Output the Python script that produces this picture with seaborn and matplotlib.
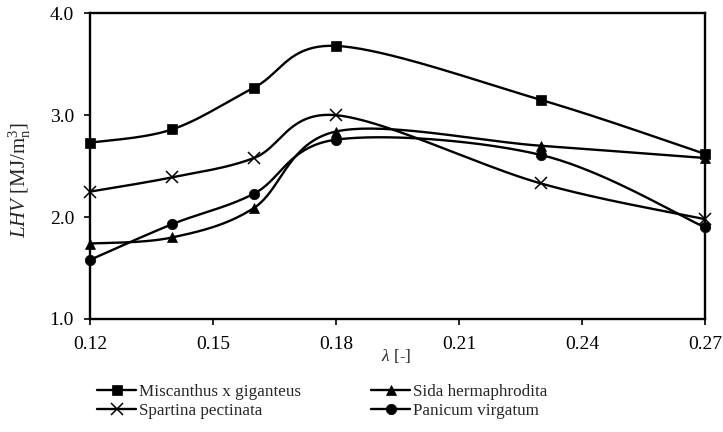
import numpy as np
import pandas as pd
import matplotlib
matplotlib.use("Agg")
import matplotlib.pyplot as plt
from matplotlib.lines import Line2D
import seaborn as sns

# Excess air ratio and lower heating value of the producer gas
lam = [0.12, 0.14, 0.16, 0.18, 0.23, 0.27]
miscanthus = [2.73, 2.86, 3.27, 3.68, 3.15, 2.62]
sida = [1.74, 1.80, 2.09, 2.84, 2.70, 2.58]
spartina = [2.25, 2.39, 2.58, 3.00, 2.33, 1.98]
panicum = [1.58, 1.93, 2.23, 2.76, 2.61, 1.90]

series_names = ["Miscanthus x giganteus", "Sida hermaphrodita",
                "Spartina pectinata", "Panicum virgatum"]
series_values = [miscanthus, sida, spartina, panicum]
series_markers = ["s", "^", "x", "o"]

x_ticks = [0.12, 0.15, 0.18, 0.21, 0.24, 0.27]
y_ticks = [1.0, 2.0, 3.0, 4.0]

sns.set_theme(style="white")
plt.rcParams["font.family"] = ["Liberation Serif", "DejaVu Serif"]
plt.rcParams["mathtext.fontset"] = "custom"
plt.rcParams["mathtext.rm"] = "Liberation Serif"
plt.rcParams["mathtext.it"] = "Liberation Serif:italic"


def smooth_curve(x, y, n=40):
    """Cubic Bezier smoothing through every point (Catmull-Rom style)."""
    x = np.asarray(x, float)
    y = np.asarray(y, float)
    px = np.concatenate([[x[0]], x, [x[-1]]])
    py = np.concatenate([[y[0]], y, [y[-1]]])
    t = np.linspace(0, 1, n)[:, None]
    out_x, out_y = [], []
    for i in range(1, len(px) - 2):
        p0 = np.array([px[i], py[i]])
        p3 = np.array([px[i + 1], py[i + 1]])
        c1 = p0 + (np.array([px[i + 1], py[i + 1]]) - np.array([px[i - 1], py[i - 1]])) / 6
        c2 = p3 - (np.array([px[i + 2], py[i + 2]]) - np.array([px[i], py[i]])) / 6
        pts = ((1 - t) ** 3) * p0 + 3 * ((1 - t) ** 2) * t * c1 + 3 * (1 - t) * t ** 2 * c2 + t ** 3 * p3
        out_x.append(pts[:, 0])
        out_y.append(pts[:, 1])
    return np.concatenate(out_x), np.concatenate(out_y)


fig = plt.figure(figsize=(7.23, 4.32), dpi=100)
ax = fig.add_axes([0.1245, 0.2616, 0.8505, 0.7076])

handles = []
for name, vals, mk in zip(series_names, series_values, series_markers):
    cx, cy = smooth_curve(lam, vals)
    curve = pd.DataFrame({"lam": cx, "lhv": cy})
    sns.lineplot(data=curve, x="lam", y="lhv", sort=False, color="black",
                 linewidth=1.7, ax=ax, legend=False)
    pts = pd.DataFrame({"lam": lam, "lhv": vals})
    ms = 7.5 if mk != "x" else 9
    mew = 1.1 if mk == "x" else 0.5
    ax.plot(pts["lam"], pts["lhv"], linestyle="none", marker=mk, markersize=ms,
            color="black", markeredgewidth=mew, clip_on=False)
    handles.append(Line2D([], [], color="black", linewidth=1.7, marker=mk,
                          markersize=ms, markeredgewidth=mew))

ax.set_xlim(0.12, 0.27)
ax.set_ylim(1.0, 4.0)
ax.set_xticks(x_ticks)
ax.set_xticklabels([f"{v:.2f}" for v in x_ticks])
ax.set_yticks(y_ticks)
ax.set_yticklabels([f"{v:.1f}" for v in y_ticks])
ax.set_xlabel("")
ax.set_ylabel("")

for sp in ax.spines.values():
    sp.set_visible(True)
    sp.set_color("black")
    sp.set_linewidth(1.7)

ax.tick_params(axis="both", which="major", direction="out", length=4.5, width=1.2,
               color="black", labelsize=14, labelcolor="black")
ax.tick_params(axis="x", bottom=True, top=False, pad=8)
ax.tick_params(axis="y", left=True, right=False, pad=7)

fig.text(396 / 723, 1 - 356 / 432, r"$\lambda$ [-]", ha="center", va="center",
         fontsize=12.5)
fig.text(20 / 723, 1 - 180 / 432, r"$\it{LHV}$ [MJ/m$^{3}_{\rm n}$]",
         ha="center", va="center", rotation=90, fontsize=15)

order = [0, 2, 1, 3]
leg = fig.legend([handles[i] for i in order], [series_names[i] for i in order],
                 ncol=2, loc="upper left", bbox_to_anchor=(97 / 723, 1 - 384 / 432),
                 frameon=False, fontsize=12.3, handlelength=2.3, handletextpad=0.15,
                 columnspacing=4.1, labelspacing=0.2, borderpad=0.0, borderaxespad=0.0)

fig.savefig("out.png", dpi=100, facecolor="white")
